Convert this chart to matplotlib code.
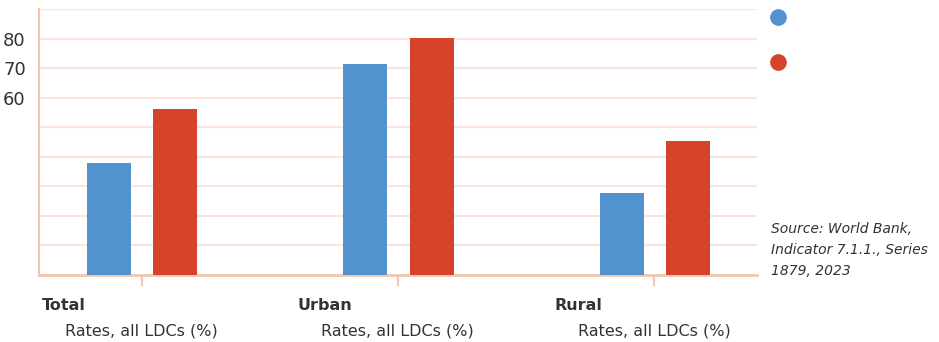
import matplotlib.pyplot as plt
import numpy as np

# data
groups = ["Total", "Urban", "Rural"]
sublabel = "Rates, all LDCs (%)"
blue_vals = [37.9, 71.4, 27.7]
red_vals = [56.2, 80.2, 45.3]
ytick_vals = [60, 70, 80]
source = "Source: World Bank,\nIndicator 7.1.1., Series\n1879, 2023"

blue = "#5192cf"
red = "#d6432b"
spine = "#f3c6ad"
grid = "#fbe4da"
txt = "#333333"

plt.rcParams["font.family"] = ["DejaVu Sans"]

fig = plt.figure(figsize=(9.39, 3.42), dpi=100)
ax = fig.add_axes([39 / 939, 1 - 275 / 342, (757 - 39) / 939, (275 - 9) / 342])

x = np.arange(len(groups))
w = 0.172
off = 0.129
ax.bar(x - off + 0.002, blue_vals, w, color=blue, zorder=3)
ax.bar(x + off + 0.002, red_vals, w, color=red, zorder=3)

ax.set_xlim(-0.4, 2.4)
ax.set_ylim(0, 90)

# gridlines every 10
for v in range(10, 100, 10):
    ax.axhline(v, color=grid, lw=1.5, zorder=1)

ax.set_yticks(ytick_vals)
ax.set_yticklabels([str(v) for v in ytick_vals], fontsize=13, color=txt)
ax.tick_params(axis="y", length=0, pad=9.5)

ax.set_xticks(x)
ax.set_xticklabels([])
ax.tick_params(axis="x", length=8, width=1.5, color=spine)

for s in ["top", "right"]:
    ax.spines[s].set_visible(False)
ax.spines["left"].set_color(spine)
ax.spines["left"].set_linewidth(1.5)
ax.spines["bottom"].set_color(spine)
ax.spines["bottom"].set_linewidth(2)

trans = ax.get_xaxis_transform()
for i, g in enumerate(groups):
    ax.text(i - 0.39, -0.115, g, transform=trans, fontsize=11.5, fontweight="bold",
            color=txt, ha="left", va="center")
    ax.text(i - 0.30, -0.21, sublabel, transform=trans, fontsize=11.5,
            color=txt, ha="left", va="center")

# legend dots without text
fig.lines.append(plt.Line2D([778 / 939], [1 - 17 / 342], marker="o", ms=11,
                            color=blue, transform=fig.transFigure))
fig.lines.append(plt.Line2D([778 / 939], [1 - 62 / 342], marker="o", ms=11,
                            color=red, transform=fig.transFigure))

fig.text(771 / 939, 1 - 250 / 342, source, fontsize=10, style="italic",
         color=txt, ha="left", va="center", linespacing=1.6)

fig.savefig("out.png", dpi=100)
